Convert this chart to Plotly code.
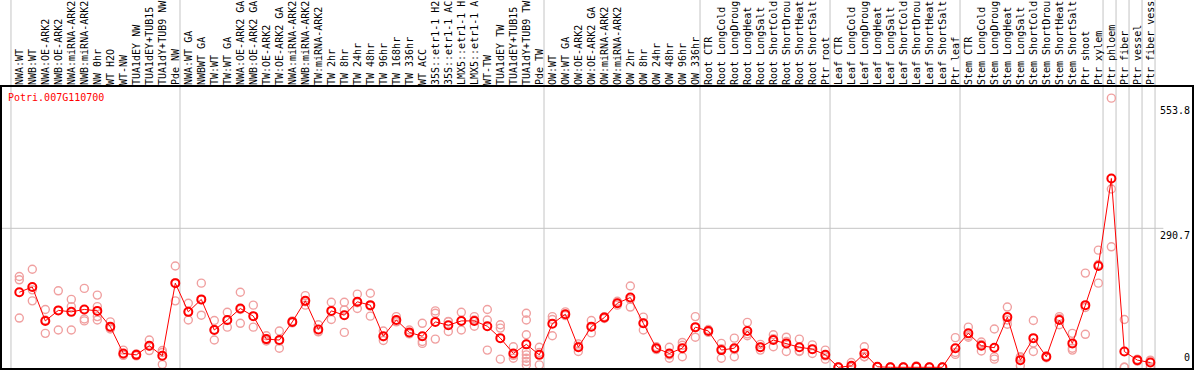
import plotly.graph_objects as go

gene = "Potri.007G110700"

labels = [
    "NWA:WT", "NWB:WT", "NWA:OE-ARK2", "NWB:OE-ARK2", "NWA:miRNA-ARK2", "NWB:miRNA-ARK2",
    "NW 0hr", "WT H2O", "WT-NW", "TUA1dEY NW", "TUA1dEY+TUB15", "TUA1dY+TUB9 NW", "Pde NW",
    "NWA:WT GA", "NWBWT GA", "TW:WT", "TW:WT GA", "NWA:OE-ARK2 GA", "NWB:OE-ARK2 GA",
    "TW:OE-ARK2", "TW:OE-ARK2 GA", "NWA:miRNA-ARK2", "NWB:miRNA-ARK2", "TW:miRNA-ARK2",
    "TW 2hr", "TW 8hr", "TW 24hr", "TW 48hr", "TW 96hr", "TW 168hr", "TW 336hr", "WT ACC",
    "35S::etr1-1 H2", "35S::etr1-1 AC", "LMX5::etr1-1 H", "LMX5::etr1-1 A", "WT-TW",
    "TUA1dEY TW", "TUA1dEY+TUB15", "TUA1dY+TUB9 TW", "Pde TW",
    "OW:WT", "OW:WT GA", "OW:OE-ARK2", "OW:OE-ARK2 GA", "OW:miRNA-ARK2", "OW:miRNA-ARK2",
    "OW 2hr", "OW 8hr", "OW 24hr", "OW 48hr", "OW 96hr", "OW 336hr",
    "Root CTR", "Root LongCold", "Root LongDroug", "Root LongHeat", "Root LongSalt",
    "Root ShortCold", "Root ShortDrou", "Root ShortHeat", "Root ShortSalt", "Ptr root",
    "Leaf CTR", "Leaf LongCold", "Leaf LongDroug", "Leaf LongHeat", "Leaf LongSalt",
    "Leaf ShortCold", "Leaf ShortDrou", "Leaf ShortHeat", "Leaf ShortSalt", "Ptr leaf",
    "Stem CTR", "Stem LongCold", "Stem LongDroug", "Stem LongHeat", "Stem LongSalt",
    "Stem ShortCold", "Stem ShortDrou", "Stem ShortHeat", "Stem ShortSalt", "Ptr shoot",
    "Ptr xylem", "Ptr phloem", "Ptr fiber", "Ptr vessel", "Ptr fiber vess",
]

means = [
    157, 168, 97, 119, 116, 121, 118, 85, 29, 26, 45, 24, 176,
    116, 142, 78, 99, 123, 107, 59, 57, 95, 139, 79, 118, 109, 137, 130, 65, 99, 73, 65,
    95, 88, 97, 97, 86, 61, 29, 48, 26,
    91, 111, 42, 85, 104, 134, 146, 92, 40, 29, 40, 84,
    76, 36, 40, 76, 42, 57, 50, 42, 38, 26,
    0, 3, 29, 1, 0, 0, 1, 0, 0, 40,
    71, 45, 41, 105, 15, 61, 22, 99, 50, 130, 212,
    395, 33, 15, 10,
]

replicates = [
    [190, 183, 103], [205, 162, 139], [121, 71, 99], [160, 78, 119], [142, 127, 78],
    [165, 101, 97], [151, 127, 106, 99], [95, 80, 82], [36, 26, 25], [28, 24, 26],
    [57, 35, 44], [31, 6, 35], [212, 139, 177],
    [134, 99, 115], [176, 109, 141], [98, 57, 79], [115, 84, 98], [157, 92, 121],
    [130, 84, 107], [66, 55, 57], [76, 40, 55], [97, 93, 95], [150, 130, 137],
    [89, 75, 74], [136, 100, 118], [136, 120, 73], [153, 123, 135], [155, 107, 128],
    [76, 56, 64], [106, 95, 96], [78, 70, 71], [92, 54, 50], [118, 113, 59],
    [95, 75, 96], [115, 78, 98], [106, 86, 99], [121, 99, 36], [89, 82, 17],
    [43, 19, 25], [113, 99, 68, 33, 26, 19, 12, 5], [42, 5, 31],
    [100, 66, 106], [116, 110, 108], [33, 49, 44], [98, 72, 85], [106, 102, 104],
    [138, 130, 134], [170, 126, 142], [105, 78, 93], [43, 37, 40], [42, 19, 26],
    [52, 22, 46], [106, 63, 83],
    [79, 73, 76], [50, 19, 39], [61, 22, 37], [94, 66, 70], [36, 48, 42],
    [68, 43, 60], [63, 33, 54], [59, 33, 34], [47, 29, 38], [36, 17, 24],
    [0, 0, 0], [10, 0, 0], [43, 22, 22], [1, 1, 1], [0, 0, 0],
    [0, 0, 0], [3, 1, 0], [0, 0, 0], [0, 0, 0], [62, 27, 31],
    [84, 63, 66], [48, 34, 53], [80, 22, 17], [126, 90, 99], [22, 3, 20],
    [98, 33, 51], [24, 20, 22], [106, 89, 102], [71, 40, 36], [197, 69, 125],
    [245, 176, 215],
    [563, 373, 252], [100, 0, 0], [17, 13, 15], [15, 1, 14],
]

group_starts = [0, 13, 41, 53, 63, 73, 84, 85, 86, 87, 88]
scale_labels = [553.8, 290.7, 0]
grid_value = 290.7

FONT = "DejaVu Sans Mono"

xs = list(range(len(labels)))
rx, ry = [], []
for i, r in enumerate(replicates):
    rx += [i] * len(r)
    ry += r

fig = go.Figure()
fig.add_trace(go.Scatter(
    x=rx, y=ry, mode="markers", hoverinfo="skip",
    marker=dict(symbol="circle-open", size=8, color="#f0a0a0", line=dict(width=1.4)),
))
fig.add_trace(go.Scatter(
    x=xs, y=means, mode="lines+markers",
    line=dict(color="#ff0000", width=1),
    marker=dict(symbol="circle-open", size=8, color="#ff0000", line=dict(width=2)),
))

shapes = []
for b in group_starts:
    shapes.append(dict(type="line", xref="x", yref="paper", x0=b - 0.64, x1=b - 0.64,
                       y0=-0.01, y1=1.31, line=dict(color="#c4c4c4", width=1), layer="below"))
shapes.append(dict(type="line", xref="x", yref="y", x0=-2, x1=88.0, y0=grid_value, y1=grid_value,
                   line=dict(color="#c4c4c4", width=1), layer="below"))
shapes.append(dict(type="rect", xref="paper", yref="paper", x0=0, x1=1, y0=0, y1=1,
                   line=dict(color="black", width=2)))

annotations = []
for v in scale_labels:
    annotations.append(dict(xref="paper", yref="y", x=1, y=v, xanchor="right",
                            yanchor="bottom" if v == 0 else "top", showarrow=False,
                            text=str(v) if v != 0 else "0", xshift=-1, yshift=2 if v == 0 else 0,
                            font=dict(family=FONT, size=10, color="black")))
annotations.append(dict(xref="paper", yref="paper", x=0, y=1 - 11 / 283, xanchor="left",
                        yanchor="middle", showarrow=False, text=gene, xshift=5,
                        font=dict(family=FONT, size=10, color="#ff0000")))

fig.update_layout(
    width=1194, height=370,
    margin=dict(l=1, r=1, t=86, b=1, pad=0),
    paper_bgcolor="white", plot_bgcolor="white",
    showlegend=False,
    shapes=shapes, annotations=annotations,
    xaxis=dict(range=[-1.408, 90.28], side="top", tickmode="array", tickvals=xs, ticktext=labels,
               tickangle=-90, ticks="", showgrid=False, zeroline=False, showline=False,
               tickfont=dict(family=FONT, size=10, color="black"), automargin=False,
               ticklabelstandoff=0),
    yaxis=dict(range=[-3.56, 588.4], showticklabels=False, showgrid=False, zeroline=False,
               showline=False, automargin=False),
)

fig.write_html("out.html", config={"displayModeBar": False},
               post_script="document.body.style.margin='0';document.body.style.padding='0';")
